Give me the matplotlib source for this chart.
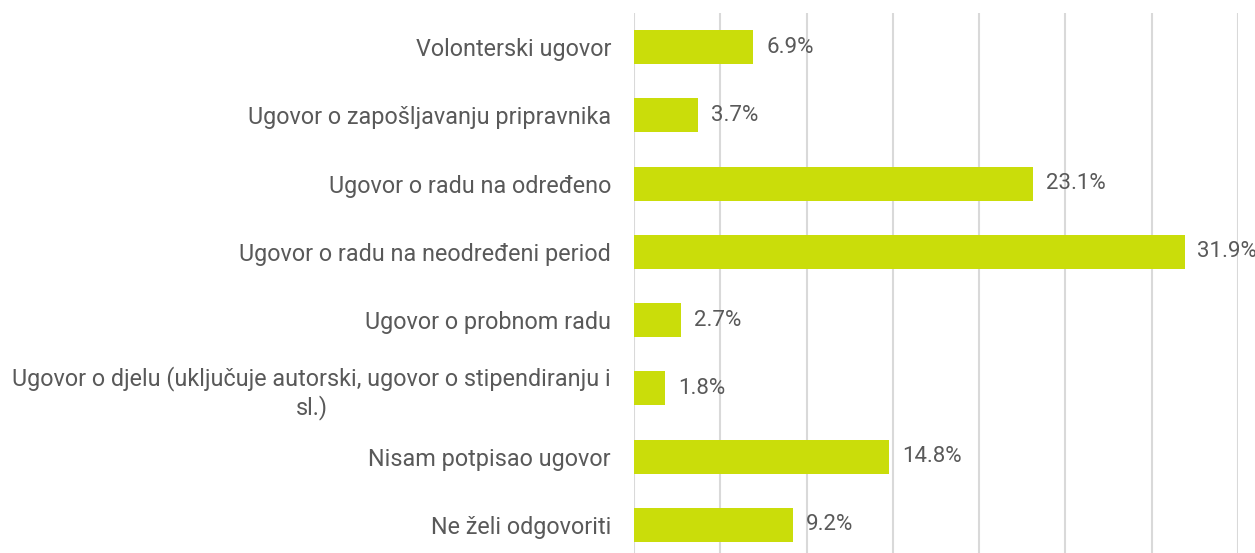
import matplotlib.pyplot as plt

plt.rcParams['font.family'] = ['Roboto', 'DejaVu Sans']

categories = [
    "Volonterski ugovor",
    "Ugovor o zapošljavanju pripravnika",
    "Ugovor o radu na određeno",
    "Ugovor o radu na neodređeni period",
    "Ugovor o probnom radu",
    "Ugovor o djelu (uključuje autorski, ugovor o stipendiranju i\nsl.)",
    "Nisam potpisao ugovor",
    "Ne želi odgovoriti",
]
values = [6.9, 3.7, 23.1, 31.9, 2.7, 1.8, 14.8, 9.2]

bar_color = '#CADD0A'
text_color = '#595959'

fig = plt.figure(figsize=(12.55, 5.53), dpi=100)
ax = fig.add_axes([634 / 1255, -6 / 553, (1238 - 634) / 1255, 546 / 553])

y = list(range(len(categories)))
ax.barh(y, values, height=0.5, color=bar_color, zorder=3)
ax.set_ylim(len(categories) - 0.5, -0.5)
ax.set_xlim(0, 35)
ax.set_xticks(range(0, 36, 5))
ax.tick_params(axis='x', bottom=False, labelbottom=False)
ax.tick_params(axis='y', left=False, pad=13)
ax.set_yticks(y)
ax.set_yticklabels(categories, fontsize=16.8, color=text_color, multialignment='center')
ax.grid(axis='x', color='#D9D9D9', linewidth=1.5, zorder=0)
for s in ax.spines.values():
    s.set_visible(False)

for yi, v in zip(y, values):
    ax.text(v + 0.75, yi, f"{v}%", va='center', ha='left', fontsize=16, color=text_color)

fig.savefig("out.png", dpi=100)
